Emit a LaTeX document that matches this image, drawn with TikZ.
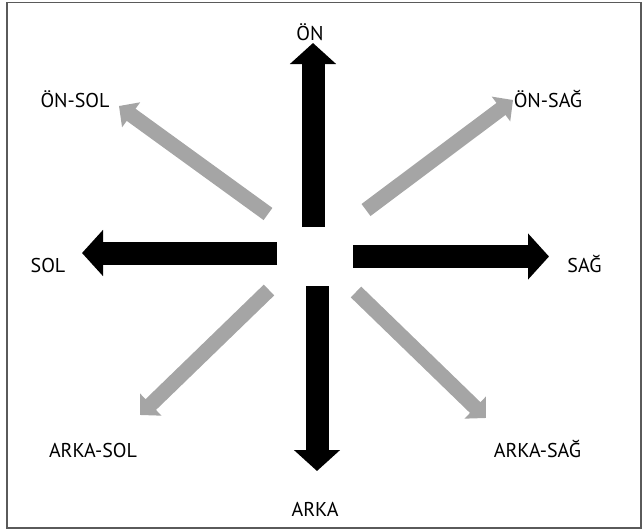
\documentclass[tikz,border=0pt]{standalone}
\usepackage{fontspec}
\setmainfont{PT Sans}
\usetikzlibrary{arrows.meta}
\definecolor{diaggray}{HTML}{A5A5A5}
\definecolor{framegray}{HTML}{5A5A5A}
\tikzset{
  mainarrow/.style={draw=black, line width=23pt, line cap=butt,
    -{Triangle[width=45pt,length=21pt]}},
  diagarrow/.style={draw=diaggray, line width=15pt, line cap=butt,
    -{Triangle[width=30pt,length=15pt]}},
  dirlabel/.style={inner sep=0pt, anchor=base, font=\fontsize{20pt}{22pt}\selectfont, text=black}
}
\begin{document}
\begin{tikzpicture}[x=1pt,y=-1pt]
  \useasboundingbox (0,0) rectangle (643,530);
  \draw[framegray, line width=1.5pt] (7,2.5) rectangle (641,528);

  % end points of the eight direction arrows
  \coordinate (onT) at (313,227);      \coordinate (onH) at (313,43);
  \coordinate (arkaT) at (317,286);    \coordinate (arkaH) at (317,471);
  \coordinate (solT) at (277,253);     \coordinate (solH) at (82,253);
  \coordinate (sagT) at (353,256.5);   \coordinate (sagH) at (549,256.5);
  \coordinate (onsolT) at (268,214);   \coordinate (onsolH) at (119,106);
  \coordinate (onsagT) at (366,210);   \coordinate (onsagH) at (513,100);
  \coordinate (arkasolT) at (269,290); \coordinate (arkasolH) at (140,415);
  \coordinate (arkasagT) at (356,292); \coordinate (arkasagH) at (486,418);

  % diagonal directions
  \draw[diagarrow] (onsolT) -- (onsolH);
  \draw[diagarrow] (onsagT) -- (onsagH);
  \draw[diagarrow] (arkasolT) -- (arkasolH);
  \draw[diagarrow] (arkasagT) -- (arkasagH);

  % main directions
  \draw[mainarrow] (onT) -- (onH);
  \draw[mainarrow] (arkaT) -- (arkaH);
  \draw[mainarrow] (solT) -- (solH);
  \draw[mainarrow] (sagT) -- (sagH);

  % labels
  \node[dirlabel] (on) at (310,40) {ÖN};
  \node[dirlabel] (onsol) at (75,107) {ÖN-SOL};
  \node[dirlabel] (onsag) at (548,107) {ÖN-SAĞ};
  \node[dirlabel] (sol) at (48,272) {SOL};
  \node[dirlabel] (sag) at (584.5,272) {SAĞ};
  \node[dirlabel] (arkasol) at (93,457) {ARKA-SOL};
  \node[dirlabel] (arkasag) at (537.5,457) {ARKA-SAĞ};
  \node[dirlabel] (arka) at (315,516) {ARKA};
\end{tikzpicture}
\end{document}
